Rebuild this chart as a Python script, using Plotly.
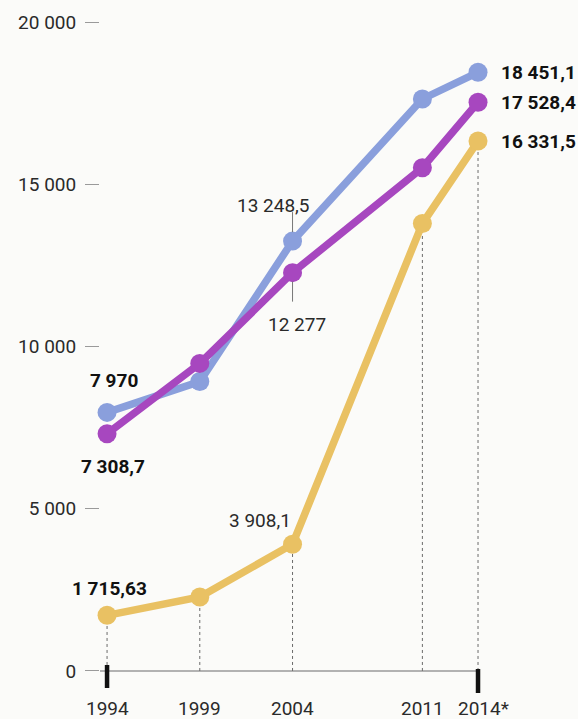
import plotly.graph_objects as go

# Values by year
years = [1994, 1999, 2004, 2011, 2014]
year_labels = ["1994", "1999", "2004", "2011", "2014*"]
blue_vals = [7970, 8920, 13248.5, 17630, 18451.1]
purple_vals = [7308.7, 9480, 12277, 15510, 17528.4]
yellow_vals = [1715.63, 2280, 3908.1, 13790, 16331.5]

y_ticks = [0, 5000, 10000, 15000, 20000]
y_tick_text = ["0", "5 000", "10 000", "15 000", "20 000"]

BLUE = "#8a9fdc"
PURPLE = "#a747bf"
YELLOW = "#e9c163"
BG = "#fbfbf9"

W, H = 578, 719
M_L = 100
# axis ranges (plot area spans the page below the left margin)
x_range = [1993.62, 2019.39]
y_range = [-1480, 20680]
units_per_px = (y_range[1] - y_range[0]) / H

fig = go.Figure()

# dotted drop lines from the yellow series to the baseline
for yr, v in zip(years, yellow_vals):
    fig.add_trace(go.Scatter(
        x=[yr, yr], y=[0, v], mode="lines",
        line=dict(color="#6a6a6a", width=1, dash="dot"),
        hoverinfo="skip", showlegend=False,
    ))

for vals, col in [(yellow_vals, YELLOW), (blue_vals, BLUE), (purple_vals, PURPLE)]:
    fig.add_trace(go.Scatter(
        x=years, y=vals, mode="lines+markers",
        line=dict(color=col, width=7.5),
        marker=dict(color=col, size=19),
        cliponaxis=False, showlegend=False,
    ))

# baseline and the heavy end ticks
fig.add_shape(type="line", xref="x", yref="y", x0=x_range[0], x1=years[-1],
              y0=0, y1=0, line=dict(color="#9a9a9a", width=1.5), layer="below")
for yr, up, down in [(years[0], 6, 17), (years[-1], 2, 22)]:
    fig.add_shape(type="line", xref="x", yref="y", x0=yr, x1=yr,
                  y0=up * units_per_px, y1=-down * units_per_px,
                  line=dict(color="#111111", width=4.5))

BOLD = dict(family="Roboto", size=19, color="#111111", weight="bold")
LIGHT = dict(family="Roboto", size=19, color="#2a2a2a", weight=400)


def fmt(v):
    return f"{v:,.1f}".replace(",", " ").replace(".", ",")


# end-of-line values
for v in [blue_vals[-1], purple_vals[-1], yellow_vals[-1]]:
    fig.add_annotation(x=years[-1], y=v, text=fmt(v), showarrow=False,
                       xanchor="left", xshift=21, font=BOLD)

# start values
fig.add_annotation(x=years[0], y=blue_vals[0], text="7 970", showarrow=False,
                   xanchor="center", xshift=7, yshift=32, font=BOLD)
fig.add_annotation(x=years[0], y=purple_vals[0], text="7 308,7", showarrow=False,
                   xanchor="center", xshift=6, yshift=-33, font=BOLD)
fig.add_annotation(x=years[0], y=yellow_vals[0], text="1 715,63", showarrow=False,
                   xanchor="center", xshift=2, yshift=27, font=BOLD)
fig.add_annotation(x=years[2], y=yellow_vals[2], text="3 908,1", showarrow=False,
                   xanchor="right", xshift=0, yshift=24, font=LIGHT)

# 2004 values with short leaders
fig.add_annotation(x=years[2], y=blue_vals[2], text=" ", showarrow=True, arrowhead=0,
                   ax=0, ay=-32, standoff=9, arrowcolor="#777777", arrowwidth=1,
                   font=dict(size=2))
fig.add_annotation(x=years[2], y=blue_vals[2], text="13 248,5", showarrow=False,
                   xanchor="center", xshift=-19, yshift=36, font=LIGHT)
fig.add_annotation(x=years[2], y=purple_vals[2], text=" ", showarrow=True, arrowhead=0,
                   ax=0, ay=32, standoff=9, arrowcolor="#777777", arrowwidth=1,
                   font=dict(size=2))
fig.add_annotation(x=years[2], y=purple_vals[2], text="12 277", showarrow=False,
                   xanchor="center", xshift=4, yshift=-52, font=LIGHT)

# year labels under the baseline
for yr, lab in zip(years, year_labels):
    fig.add_annotation(x=yr, y=0, text=lab, showarrow=False, yanchor="middle",
                       xanchor="center", yshift=-38, xshift=5 if lab.endswith("*") else 0,
                       font=LIGHT)

fig.update_xaxes(range=x_range, showticklabels=False, ticks="", showgrid=False,
                 zeroline=False, showline=False)
fig.update_yaxes(range=y_range, tickvals=y_ticks, ticktext=y_tick_text,
                 ticks="outside", ticklen=14, tickcolor="#9a9a9a", tickwidth=1,
                 ticklabelstandoff=5, showgrid=False, zeroline=False,
                 showline=False, tickfont=LIGHT)

fig.update_layout(
    width=W, height=H,
    margin=dict(l=M_L, r=0, t=0, b=0),
    paper_bgcolor=BG, plot_bgcolor=BG,
    showlegend=False,
)

fig.write_html("out.html")
